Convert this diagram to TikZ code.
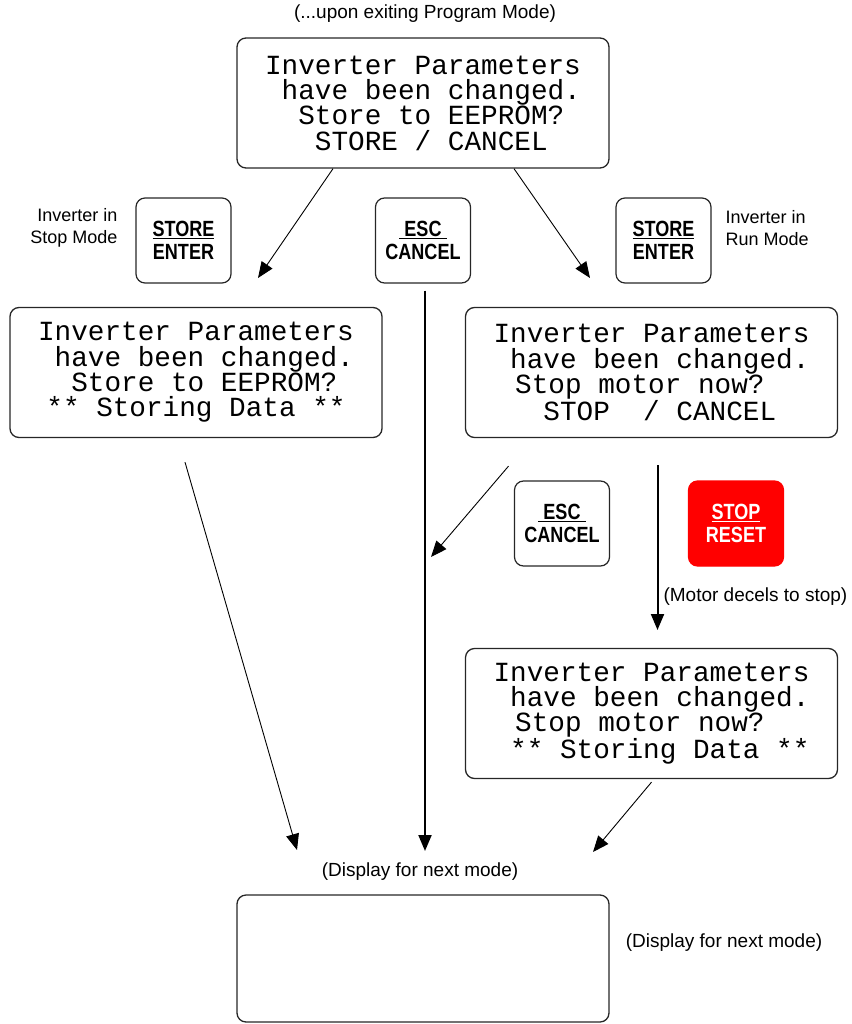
\documentclass[tikz,border=0pt]{standalone}
\usepackage{fontspec}
\setmainfont{Liberation Sans}
\newfontfamily\lcdfont{Liberation Mono}
\newfontfamily\keyfont[FakeStretch=0.82]{Liberation Sans}
\usetikzlibrary{arrows.meta,calc}
\newcommand\lcdpad[1]{\hspace*{#1\dimexpr0.6em\relax}}
\tikzset{
  lcd/.style={draw=black!85, line width=1.3pt, rounded corners=9pt,
    minimum width=372pt, minimum height=130pt, inner sep=0pt, align=left,
    font=\lcdfont\fontsize{27.7}{25.3}\selectfont},
  key/.style={draw=black!85, line width=1.2pt, rounded corners=9pt,
    minimum width=95pt, minimum height=85pt, inner sep=0pt, align=center,
    font=\keyfont\bfseries\fontsize{22}{23.5}\selectfont},
  lbl/.style={font=\fontsize{19}{22}\selectfont},
  flow/.style={-{Triangle[length=16pt,width=13pt]}, line width=0.9pt},
  flowbold/.style={-{Triangle[length=16pt,width=13pt]}, line width=2pt}
}
\begin{document}
\begin{tikzpicture}[x=1pt,y=-1pt]
\useasboundingbox (0,0) rectangle (851,1024);

\node[lbl] (exit) at (425,14) {(...upon exiting Program Mode)};
\node[lcd] (top) at (423,103) {Inverter Parameters\\\lcdpad{1}have been changed.\\\lcdpad{2}Store to EEPROM?\\\lcdpad{3}STORE / CANCEL};

\node[key] (enterL) at (183.5,240.5) {\underline{STORE}\\ENTER};
\node[key] (esc1) at (423,240.5) {\underline{\hspace*{5pt}ESC\hspace*{5pt}}\\CANCEL};
\node[key] (enterR) at (663.5,240.5) {\underline{STORE}\\ENTER};
\node[lbl, anchor=east, align=right, font=\fontsize{18}{22}\selectfont] (stopmode) at (121,228) {Inverter in\\Stop Mode};
\node[lbl, anchor=west, align=left, font=\fontsize{18}{22}\selectfont] (runmode) at (722,228) {Inverter in\\Run Mode};

\node[lcd] (store) at (196,372.5) {Inverter Parameters\\\lcdpad{1}have been changed.\\\lcdpad{2}Store to EEPROM?\\\lcdpad{0.5}** Storing Data **};
\node[lcd] (stopq) at (651.5,372.5) {Inverter Parameters\\\lcdpad{1}have been changed.\\\lcdpad{1.3}Stop motor now?\\\lcdpad{3}STOP\lcdpad{2}/ CANCEL};

\node[key] (esc2) at (562,523.5) {\underline{\hspace*{5pt}ESC\hspace*{5pt}}\\CANCEL};
\node[key, fill=red, draw=red, text=white] (reset) at (736,523.5) {\underline{STOP}\\RESET};
\node[lbl, anchor=west] (decel) at (660,597) {(Motor decels to stop)};

\node[lcd] (stored) at (651.5,713.5) {Inverter Parameters\\\lcdpad{1}have been changed.\\\lcdpad{1.3}Stop motor now?\\\lcdpad{1}** Storing Data **};

\node[lbl] (next) at (420,872) {(Display for next mode)};
\node[lcd, minimum height=127pt] (disp) at (423,958.5) {};
\node[lbl] (next2) at (724,943) {(Display for next mode)};

\coordinate (a1) at (258,278);
\coordinate (a2) at (590,278);
\coordinate (a3) at (425,851);
\coordinate (a4) at (297,850);
\coordinate (a5) at (431,557);
\coordinate (a6) at (657.5,630);
\coordinate (a7) at (593,852);

\draw[flow] ($(top.south)+(-90,0)$) -- (a1);
\draw[flow] ($(top.south)+(91,0)$) -- (a2);
\draw[flowbold] ($(esc1.south)+(2,7)$) -- (a3);
\draw[flow] ($(store.south)+(-11,24)$) -- (a4);
\draw[flow] ($(stopq.south)+(-143,28)$) -- (a5);
\draw[flowbold] ($(stopq.south)+(6,27)$) -- (a6);
\draw[flow] ($(stored.south)+(0,3)$) -- (a7);
\end{tikzpicture}
\end{document}
